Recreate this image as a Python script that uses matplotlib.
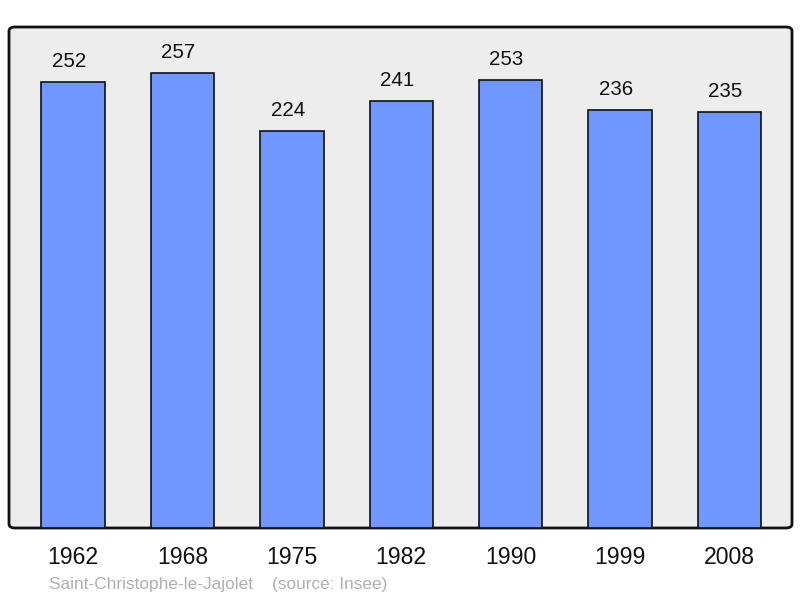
import matplotlib
matplotlib.use('Agg')
from matplotlib import pyplot as plt
from matplotlib.patches import FancyBboxPatch

years = ['1962', '1968', '1975', '1982', '1990', '1999', '2008']
population = [252, 257, 224, 241, 253, 236, 235]
commune = 'Saint-Christophe-le-Jajolet'
source = '(source: Insee)'

plt.rcParams['font.family'] = ['Liberation Sans', 'DejaVu Sans']

fig = plt.figure(figsize=(8, 5.98), dpi=100)
ax = fig.add_axes([9/800, 70/598, 783/800, 501/598])
ax.set_facecolor('none')

# rounded frame behind the bars
frame = FancyBboxPatch((0, 0), 1, 1, boxstyle='round,pad=0,rounding_size=0.008',
                       transform=ax.transAxes, facecolor='#ededed', edgecolor='#111111',
                       linewidth=2, zorder=0, clip_on=False)
ax.add_patch(frame)

x = list(range(len(years)))
ax.bar(x, population, width=0.58, color='#7096ff', edgecolor='#111111', linewidth=1.2, zorder=2)
for xi, v in zip(x, population):
    ax.annotate(str(v), (xi, v), xytext=(-3, 8), textcoords='offset points',
                ha='center', va='bottom', fontsize=14.8, color='#111111')

ax.set_xlim(-0.585, 6.571)
ax.set_ylim(0, 283)
ax.set_xticks(x)
ax.set_xticklabels(years, fontsize=16.6, color='#111111')
ax.tick_params(axis='x', length=0, pad=13)
ax.set_yticks([])
for s in ax.spines.values():
    s.set_visible(False)

fig.text(49/800, 1 - 584/598, commune + '    ' + source, fontsize=12.4,
         color='#b0b0b0', ha='left', va='center')

fig.savefig('out.png', dpi=100)
